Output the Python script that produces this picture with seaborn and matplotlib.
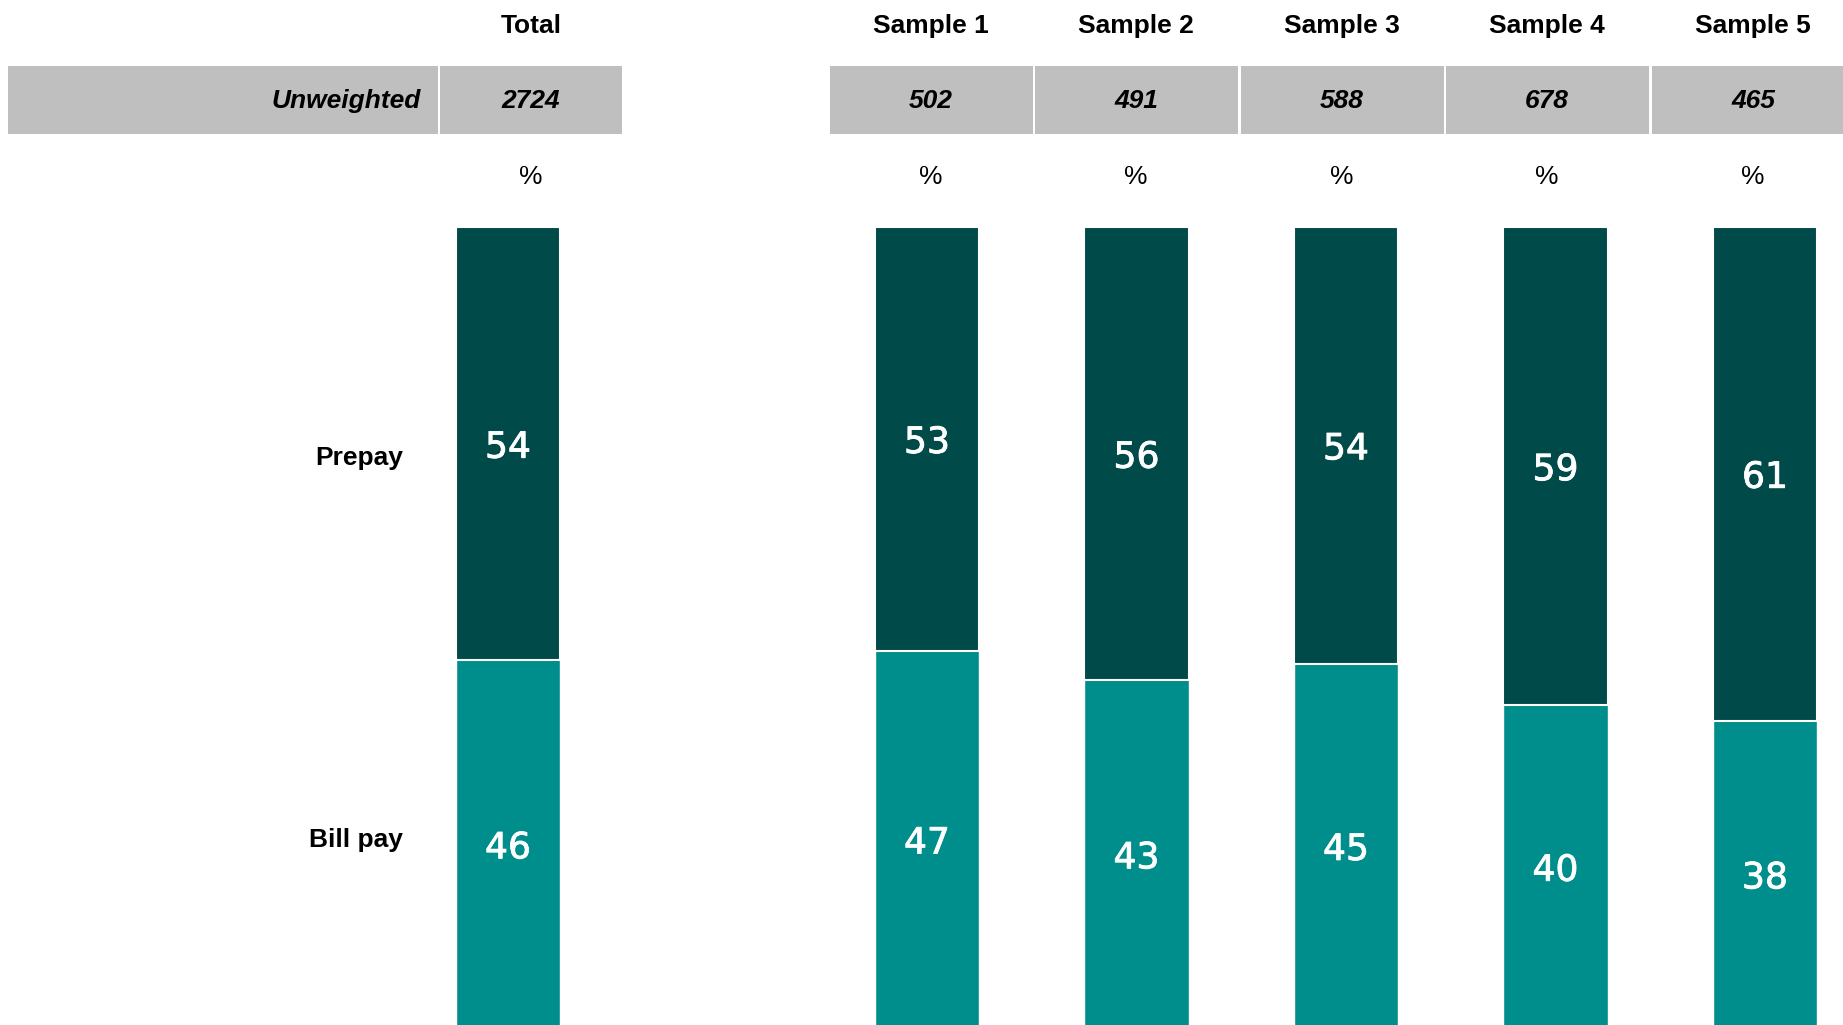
import matplotlib
matplotlib.use("Agg")
import matplotlib.pyplot as plt
import matplotlib.patheffects as pe
from matplotlib.patches import Rectangle
import pandas as pd
import seaborn as sns

groups = ["Total", "Sample 1", "Sample 2", "Sample 3", "Sample 4", "Sample 5"]
positions = [0, 2, 3, 4, 5, 6]
unweighted = [2724, 502, 491, 588, 678, 465]
# shown (rounded) percentages
prepay = [54, 53, 56, 54, 59, 61]
bill_pay = [46, 47, 43, 45, 40, 38]
# unrounded prepay share (bill pay fills to 100)
prepay_share = [54.1, 52.9, 56.6, 54.5, 59.7, 61.6]

dark = "#004A4A"
teal = "#008E8C"
grey = "#BFBFBF"

df = pd.DataFrame({"group": groups, "pos": positions,
                   "prepay": prepay_share,
                   "stack": [100] * len(groups)})

sns.set_style("white")
plt.rcParams["font.family"] = ["Liberation Sans", "DejaVu Sans"]
plt.rcParams["text.color"] = "black"

W, H = 1843, 1025
fig = plt.figure(figsize=(W / 100, H / 100), dpi=100)

# header table drawn in pixel space
head = fig.add_axes([0, 0, 1, 1])
head.set_xlim(0, W)
head.set_ylim(H, 0)
head.axis("off")

head.add_patch(Rectangle((8, 66), 430, 68, color=grey, lw=0))
head.add_patch(Rectangle((440, 66), 182, 68, color=grey, lw=0))
head.text(421, 101, "Unweighted", ha="right", va="center", fontsize=19,
          fontstyle="italic", fontweight="bold")

centres = [531, 931, 1136, 1342, 1547, 1753]
for i, (cx, g, n) in enumerate(zip(centres, groups, unweighted)):
    if i > 0:
        head.add_patch(Rectangle((cx - 101.5, 66), 203, 68, color=grey, lw=0))
    head.text(cx, 26, g, ha="center", va="center", fontsize=19, fontweight="bold")
    head.text(cx, 101, str(n), ha="center", va="center", fontsize=19,
              fontstyle="italic", fontweight="bold")
    head.text(cx, 177, "%", ha="center", va="center", fontsize=19)

# bars
ax = fig.add_axes([0, 0, 1, (H - 227) / H])
sns.barplot(data=df, x="pos", y="stack", native_scale=True, width=0.5,
            color=teal, saturation=1, errorbar=None, edgecolor="white",
            linewidth=1, ax=ax)
sns.barplot(data=df, x="pos", y="prepay", native_scale=True, width=0.5,
            color=dark, saturation=1, errorbar=None, edgecolor="white",
            linewidth=1.5, ax=ax)
ax.set_xlim(-508 / 209.5, (W - 508) / 209.5)
ax.set_ylim(99.6, 0)
ax.axis("off")

thick = [pe.withStroke(linewidth=0.6, foreground="white")]
for x, s, p, b in zip(positions, prepay_share, prepay, bill_pay):
    ax.text(x, s / 2 + 0.5, str(p), ha="center", va="center", color="white",
            fontsize=26, family="DejaVu Sans", path_effects=thick)
    ax.text(x, s + (100 - s) / 2 + 0.5, str(b), ha="center", va="center",
            color="white", fontsize=26, family="DejaVu Sans", path_effects=thick)

ax.text(-0.5, 28.8, "Prepay", ha="right", va="center", fontsize=19, fontweight="bold")
ax.text(-0.5, 76.5, "Bill pay", ha="right", va="center", fontsize=19, fontweight="bold")

fig.savefig("out.png", dpi=100)
